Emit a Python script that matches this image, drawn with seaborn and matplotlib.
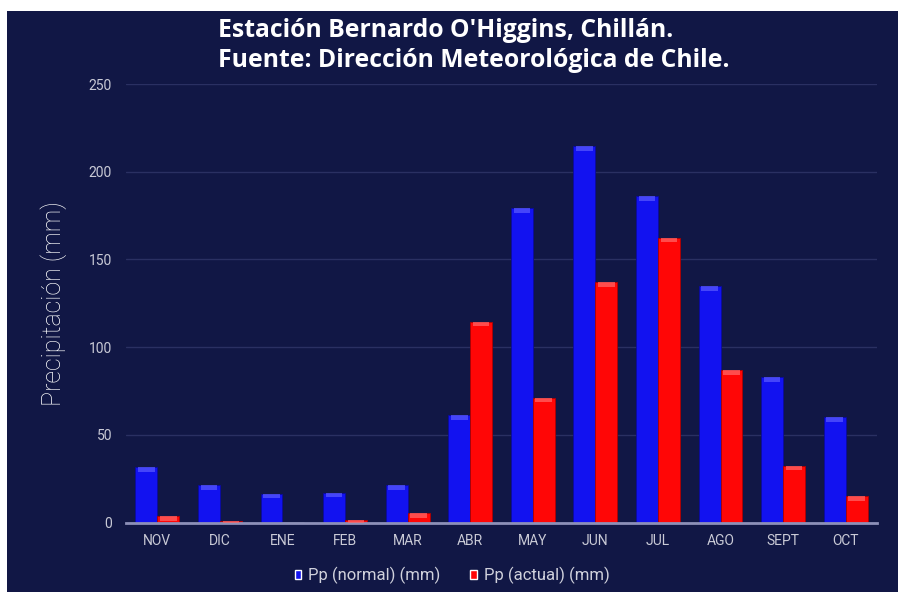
import matplotlib
matplotlib.use("Agg")
import matplotlib.pyplot as plt
from matplotlib.patches import Rectangle
import pandas as pd
import seaborn as sns

months = ["NOV", "DIC", "ENE", "FEB", "MAR", "ABR", "MAY", "JUN", "JUL", "AGO", "SEPT", "OCT"]
pp_normal = [31.5, 21.3, 16.4, 17.0, 21.3, 61.1, 179.2, 214.6, 186.0, 134.7, 82.8, 60.0]
pp_actual = [3.6, 1.0, 0.0, 1.5, 5.4, 114.6, 71.2, 137.2, 162.5, 86.8, 32.5, 15.0]
series = ["Pp (normal) (mm)", "Pp (actual) (mm)"]

bg = "#111745"
blue = "#1212f0"
red = "#ff0606"

df = pd.DataFrame({
    "mes": months * 2,
    "serie": [series[0]] * len(months) + [series[1]] * len(months),
    "pp": pp_normal + pp_actual,
})

sns.set_theme(style="dark")
plt.rcParams["font.family"] = ["Roboto", "DejaVu Sans"]

fig = plt.figure(figsize=(8.98, 5.92), dpi=100, facecolor="white")
# navy panel, white margin on left and top as in the screenshot
fig.patches.append(Rectangle((7 / 898, 0), 1, 1 - 11 / 592, transform=fig.transFigure,
                             facecolor=bg, edgecolor="none", zorder=-10))

ax = fig.add_axes([126 / 898, 1 - 522.7 / 592, (877 - 126) / 898, (522.7 - 84) / 592])
sns.barplot(data=df, x="mes", y="pp", hue="serie", order=months, hue_order=series,
            palette=[blue, red], width=0.7, saturation=1, ax=ax, legend=True)

ax.set_facecolor(bg)
ax.set_ylim(0, 250)
ax.set_yticks([0, 50, 100, 150, 200, 250])
ax.grid(axis="y", color="#2a3062", linewidth=1)
ax.set_axisbelow(True)
for s in ["top", "right", "left"]:
    ax.spines[s].set_visible(False)
ax.spines["bottom"].set_color("#8d90b8")
ax.spines["bottom"].set_linewidth(2)
ax.tick_params(axis="both", length=0, colors="#c9cad6", labelsize=10)
ax.tick_params(axis="x", pad=8)
ax.tick_params(axis="y", pad=10)
ax.set_xlabel("")
ax.set_ylabel("Precipitación (mm)", color="white", fontsize=18, fontweight="light", labelpad=16)

# little 3D cap on top of each bar
for p in list(ax.patches):
    h = p.get_height()
    if h <= 0.5:
        continue
    fc = p.get_facecolor()
    light = "#5b5bff" if fc[2] > fc[0] else "#ff6a6a"
    ax.add_patch(Rectangle((p.get_x() + p.get_width() * 0.12, h - 2.6), p.get_width() * 0.76, 2.6,
                           facecolor=light, edgecolor="none", alpha=0.7, zorder=3))
    p.set_edgecolor("#0a0aa0" if fc[2] > fc[0] else "#b00000")
    p.set_linewidth(0.6)

ax.legend(loc="center", bbox_to_anchor=(452 / 898, 1 - 575.5 / 592), bbox_transform=fig.transFigure,
          ncol=2, frameon=False, fontsize=12, handlelength=0.4, handleheight=0.4,
          handletextpad=0.4, columnspacing=1.8, labelcolor="#d0d1dc")

fig.text(218 / 898, 1 - 37 / 592, "Estación Bernardo O'Higgins, Chillán.", color="white",
         fontsize=17.8, fontweight="bold", ha="left", va="baseline", family="Open Sans")
fig.text(218 / 898, 1 - 67 / 592, "Fuente: Dirección Meteorológica de Chile.", color="white",
         fontsize=17.8, fontweight="bold", ha="left", va="baseline", family="Open Sans")

fig.savefig("out.png", dpi=100, facecolor=fig.get_facecolor())
